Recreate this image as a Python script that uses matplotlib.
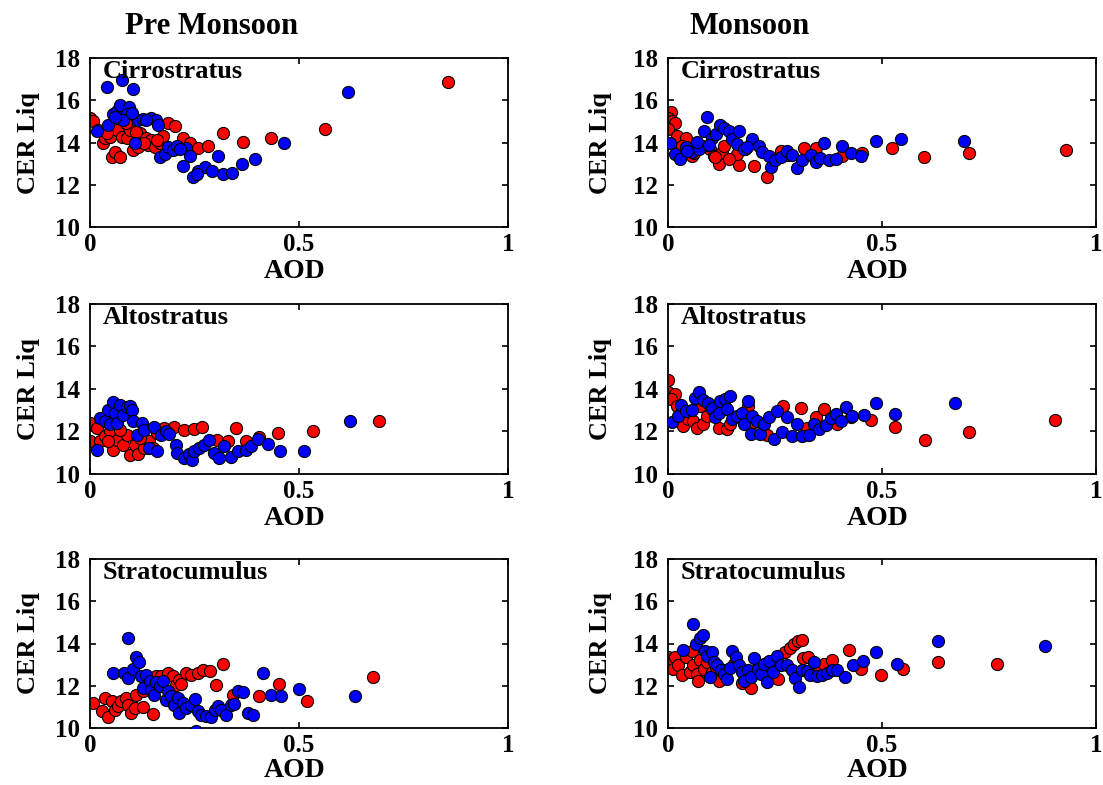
#!/usr/bin/env python3
"""CER Liq vs AOD for three cloud types, pre-monsoon and monsoon."""

import matplotlib
matplotlib.use("Agg")
import matplotlib.pyplot as plt

plt.rcParams["font.family"] = ["Liberation Serif", "DejaVu Serif"]
plt.rcParams["font.weight"] = "bold"

SEASONS = ["Pre Monsoon", "Monsoon"]
CLOUDS = ["Cirrostratus", "Altostratus", "Stratocumulus"]

# ---- Pre Monsoon, Cirrostratus ----
pre_cs_red_x = [0.0, 0.008, 0.02, 0.032, 0.036, 0.048, 0.052, 0.06, 0.072, 0.064, 0.076, 0.088,
                0.096, 0.104, 0.116, 0.119, 0.135, 0.139, 0.147, 0.155, 0.167, 0.175, 0.187,
                0.203, 0.223, 0.239, 0.259, 0.283, 0.319, 0.367, 0.434, 0.562, 0.857,
                0.04, 0.085, 0.11, 0.13, 0.16]
pre_cs_red_y = [15.17, 15.01, 14.61, 13.96, 14.2, 14.28, 13.31, 13.56, 13.31, 14.61, 14.28, 14.2,
                14.61, 13.64, 13.8, 14.45, 14.2, 13.88, 14.12, 13.8, 13.96, 14.32, 14.93,
                14.77, 14.2, 13.96, 13.72, 13.83, 14.45, 14.04, 14.2, 14.64, 16.87,
                14.45, 14.9, 14.5, 14.0, 14.1]
pre_cs_blue_x = [0.04, 0.076, 0.104, 0.617, 0.016, 0.044, 0.056, 0.064, 0.072, 0.094, 0.088,
                 0.08, 0.116, 0.127, 0.147, 0.159, 0.163, 0.108, 0.167, 0.179, 0.187, 0.199,
                 0.207, 0.229, 0.239, 0.223, 0.247, 0.259, 0.275, 0.291, 0.307, 0.319, 0.339,
                 0.363, 0.394, 0.464, 0.06, 0.1, 0.135, 0.215, 0.255]
pre_cs_blue_y = [16.63, 16.95, 16.51, 16.38, 14.53, 14.85, 15.33, 15.5, 15.77, 15.66, 15.33,
                 15.06, 15.06, 15.1, 15.17, 15.06, 14.85, 13.99, 13.31, 13.47, 13.8, 13.64,
                 13.83, 13.72, 13.35, 12.91, 12.35, 12.67, 12.83, 12.64, 13.35, 12.51, 12.54,
                 12.99, 13.23, 13.96, 15.2, 15.4, 15.08, 13.7, 12.5]

# ---- Monsoon, Cirrostratus ----
mon_cs_red_x = [0.008, 0.0, 0.009, 0.017, 0.0, 0.021, 0.041, 0.033, 0.056, 0.099, 0.107, 0.119,
                0.126, 0.13, 0.165, 0.2, 0.161, 0.232, 0.263, 0.318, 0.345, 0.407, 0.454,
                0.524, 0.598, 0.704, 0.93, 0.181, 0.08, 0.142, 0.06, 0.11, 0.28]
mon_cs_red_y = [15.46, 15.15, 15.0, 14.92, 14.62, 14.31, 14.23, 13.85, 13.38, 13.69, 13.38, 13.0,
                13.54, 13.85, 12.95, 12.89, 13.46, 12.38, 13.62, 13.72, 13.72, 13.38, 13.51,
                13.72, 13.31, 13.51, 13.66, 13.69, 13.85, 13.23, 13.5, 13.3, 13.4]
mon_cs_blue_x = [0.005, 0.017, 0.029, 0.041, 0.056, 0.072, 0.068, 0.083, 0.091, 0.103, 0.111,
                 0.122, 0.13, 0.142, 0.15, 0.167, 0.161, 0.177, 0.197, 0.212, 0.22, 0.236,
                 0.24, 0.251, 0.263, 0.278, 0.29, 0.302, 0.314, 0.333, 0.345, 0.356, 0.364,
                 0.376, 0.392, 0.407, 0.427, 0.452, 0.485, 0.544, 0.692, 0.045, 0.095, 0.185]
mon_cs_blue_y = [13.97, 13.46, 13.23, 13.77, 13.54, 13.69, 14.03, 14.54, 15.23, 14.23, 14.38,
                 14.85, 14.69, 14.54, 14.15, 14.54, 13.92, 13.69, 14.15, 13.85, 13.54, 13.38,
                 12.85, 13.15, 13.31, 13.62, 13.42, 12.77, 13.15, 13.42, 13.08, 13.26, 13.97,
                 13.15, 13.2, 13.82, 13.51, 13.38, 14.08, 14.15, 14.08, 13.6, 13.9, 13.8]

# ---- Pre Monsoon, Altostratus ----
pre_as_red_x = [0.0, 0.0, 0.016, 0.024, 0.036, 0.048, 0.056, 0.064, 0.08, 0.088, 0.096, 0.108,
                0.116, 0.128, 0.141, 0.161, 0.177, 0.201, 0.225, 0.249, 0.269, 0.305, 0.329,
                0.349, 0.373, 0.405, 0.45, 0.534, 0.691, 0.072, 0.044, 0.12, 0.15]
pre_as_red_y = [12.39, 11.53, 12.16, 11.53, 11.77, 12.0, 11.14, 11.61, 11.38, 11.84, 10.91, 11.38,
                10.94, 11.22, 11.53, 11.92, 12.16, 12.19, 12.08, 12.13, 12.23, 11.61, 11.53,
                12.16, 11.53, 11.72, 11.92, 12.03, 12.5, 12.08, 11.53, 11.7, 11.2]
pre_as_blue_x = [0.016, 0.024, 0.036, 0.044, 0.048, 0.056, 0.06, 0.064, 0.072, 0.08, 0.088,
                 0.096, 0.1, 0.104, 0.112, 0.124, 0.129, 0.141, 0.153, 0.161, 0.169, 0.181,
                 0.189, 0.205, 0.209, 0.225, 0.237, 0.245, 0.249, 0.261, 0.273, 0.285, 0.297,
                 0.309, 0.321, 0.337, 0.353, 0.373, 0.385, 0.402, 0.426, 0.454, 0.512, 0.622]
pre_as_blue_y = [11.14, 12.63, 12.5, 13.02, 12.34, 13.41, 12.86, 12.39, 13.25, 12.78, 13.17,
                 13.22, 13.02, 12.5, 11.84, 12.39, 12.08, 11.22, 12.23, 11.06, 11.84, 12.0,
                 11.88, 11.38, 10.98, 10.75, 10.94, 10.67, 11.06, 11.22, 11.38, 11.61, 10.98,
                 10.75, 11.3, 10.78, 11.06, 11.14, 11.3, 11.66, 11.41, 11.06, 11.09, 12.5]

# ---- Monsoon, Altostratus ----
mon_as_red_x = [0.0, 0.0, 0.016, 0.008, 0.02, 0.031, 0.035, 0.047, 0.059, 0.067, 0.082, 0.09,
                0.102, 0.118, 0.137, 0.145, 0.153, 0.188, 0.2, 0.231, 0.269, 0.311, 0.325,
                0.345, 0.365, 0.396, 0.427, 0.475, 0.531, 0.6, 0.704, 0.904, 0.075]
mon_as_red_y = [14.4, 13.85, 13.78, 13.51, 13.2, 12.89, 12.28, 12.58, 12.51, 12.15, 12.35, 12.74,
                13.05, 12.15, 12.12, 12.35, 12.66, 13.2, 12.43, 11.82, 13.2, 13.12, 12.15,
                12.66, 13.05, 12.35, 12.66, 12.55, 12.23, 11.62, 11.97, 12.54, 13.2]
mon_as_blue_x = [0.01, 0.024, 0.031, 0.043, 0.055, 0.063, 0.073, 0.082, 0.094, 0.102, 0.11,
                 0.118, 0.122, 0.133, 0.145, 0.137, 0.149, 0.161, 0.173, 0.178, 0.186, 0.196,
                 0.194, 0.208, 0.216, 0.224, 0.235, 0.247, 0.255, 0.267, 0.278, 0.29, 0.302,
                 0.314, 0.329, 0.341, 0.353, 0.369, 0.38, 0.392, 0.404, 0.416, 0.431, 0.457,
                 0.486, 0.531, 0.671]
mon_as_blue_y = [12.43, 12.71, 13.23, 12.97, 13.02, 13.58, 13.85, 13.48, 13.35, 13.12, 12.66,
                 12.89, 13.43, 13.54, 13.69, 13.05, 12.58, 12.71, 12.89, 12.35, 13.43, 12.71,
                 11.89, 12.51, 11.89, 12.35, 12.66, 11.66, 12.97, 11.97, 12.66, 11.78, 12.35,
                 11.78, 11.85, 12.35, 12.12, 12.31, 12.62, 12.82, 12.51, 13.17, 12.71, 12.78,
                 13.32, 12.8, 13.32]

# ---- Pre Monsoon, Stratocumulus ----
pre_sc_red_x = [0.008, 0.028, 0.036, 0.044, 0.052, 0.06, 0.067, 0.075, 0.087, 0.091, 0.099,
                0.107, 0.111, 0.127, 0.127, 0.139, 0.151, 0.159, 0.171, 0.187, 0.198, 0.206,
                0.214, 0.218, 0.23, 0.242, 0.258, 0.27, 0.286, 0.302, 0.317, 0.341, 0.405,
                0.452, 0.518, 0.677]
pre_sc_red_y = [11.18, 10.82, 11.42, 10.5, 11.26, 10.87, 11.02, 11.26, 11.42, 11.1, 10.71,
                10.94, 11.57, 10.98, 11.73, 11.89, 10.66, 12.44, 12.44, 12.6, 12.44, 12.05,
                12.28, 12.08, 12.6, 12.49, 12.6, 12.76, 12.68, 12.02, 13.02, 11.57, 11.5,
                12.08, 11.26, 12.41]
pre_sc_blue_x = [0.056, 0.082, 0.09, 0.091, 0.103, 0.111, 0.117, 0.123, 0.127, 0.135, 0.143,
                 0.147, 0.153, 0.159, 0.167, 0.175, 0.183, 0.187, 0.194, 0.202, 0.21, 0.214,
                 0.222, 0.23, 0.242, 0.25, 0.254, 0.258, 0.266, 0.278, 0.29, 0.298, 0.306,
                 0.313, 0.325, 0.337, 0.345, 0.353, 0.365, 0.377, 0.389, 0.413, 0.433, 0.456,
                 0.5, 0.635]
pre_sc_blue_y = [12.6, 12.6, 14.28, 12.39, 12.8, 13.34, 13.12, 12.44, 11.89, 12.49, 12.24,
                 11.81, 11.54, 12.2, 11.97, 12.24, 11.34, 11.73, 11.5, 11.1, 11.42, 10.71,
                 11.18, 10.94, 11.1, 11.39, 9.87, 10.79, 10.6, 10.55, 10.5, 10.87, 11.02,
                 10.87, 10.63, 11.1, 11.13, 11.73, 11.7, 10.71, 10.63, 12.6, 11.54, 11.5,
                 11.86, 11.5]

# ---- Monsoon, Stratocumulus ----
mon_sc_red_x = [0.0, 0.008, 0.016, 0.012, 0.024, 0.032, 0.043, 0.051, 0.055, 0.059, 0.067,
                0.071, 0.075, 0.083, 0.091, 0.103, 0.111, 0.119, 0.13, 0.154, 0.174, 0.194,
                0.209, 0.225, 0.249, 0.258, 0.273, 0.285, 0.295, 0.304, 0.312, 0.316, 0.328,
                0.352, 0.364, 0.383, 0.423, 0.451, 0.498, 0.549, 0.632, 0.769]
mon_sc_red_y = [13.35, 13.15, 13.35, 12.81, 12.99, 12.53, 13.35, 12.65, 13.66, 12.96, 12.57,
                12.22, 13.24, 12.81, 13.12, 12.65, 12.88, 12.22, 12.73, 13.04, 12.11, 11.91,
                12.73, 12.84, 13.09, 12.34, 13.58, 13.81, 13.97, 14.12, 14.17, 13.3, 13.35,
                12.65, 13.04, 13.24, 13.71, 12.78, 12.53, 12.78, 13.12, 13.04]
mon_sc_blue_x = [0.034, 0.058, 0.066, 0.075, 0.081, 0.087, 0.091, 0.103, 0.099, 0.107, 0.115,
                 0.123, 0.13, 0.138, 0.146, 0.15, 0.158, 0.166, 0.172, 0.178, 0.186, 0.194,
                 0.202, 0.21, 0.217, 0.225, 0.232, 0.237, 0.245, 0.255, 0.265, 0.279, 0.289,
                 0.296, 0.306, 0.312, 0.324, 0.332, 0.34, 0.348, 0.36, 0.372, 0.383, 0.395,
                 0.413, 0.432, 0.455, 0.486, 0.534, 0.632, 0.881]
mon_sc_blue_y = [13.71, 14.9, 13.97, 14.28, 14.39, 13.66, 13.43, 13.58, 12.42, 13.12, 12.96,
                 12.73, 12.57, 12.34, 12.84, 13.66, 13.35, 12.96, 12.65, 12.22, 12.73, 12.42,
                 13.3, 12.81, 12.57, 13.04, 12.16, 13.19, 12.65, 13.43, 12.99, 12.99, 12.73,
                 12.37, 11.95, 12.73, 12.68, 12.5, 13.12, 12.47, 12.53, 12.62, 12.73, 12.76,
                 12.42, 12.96, 13.19, 13.58, 13.04, 14.12, 13.89]

PANELS = {
    (0, 0): (pre_cs_red_x, pre_cs_red_y, pre_cs_blue_x, pre_cs_blue_y),
    (0, 1): (mon_cs_red_x, mon_cs_red_y, mon_cs_blue_x, mon_cs_blue_y),
    (1, 0): (pre_as_red_x, pre_as_red_y, pre_as_blue_x, pre_as_blue_y),
    (1, 1): (mon_as_red_x, mon_as_red_y, mon_as_blue_x, mon_as_blue_y),
    (2, 0): (pre_sc_red_x, pre_sc_red_y, pre_sc_blue_x, pre_sc_blue_y),
    (2, 1): (mon_sc_red_x, mon_sc_red_y, mon_sc_blue_x, mon_sc_blue_y),
}

X_TICKS = [0, 0.5, 1]
X_TICK_LABELS = ["0", "0.5", "1"]
Y_TICKS = [10, 12, 14, 16, 18]

W, H = 1103, 785
COL_X = [(90, 508), (668, 1096)]
ROW_Y = [(58, 227), (304, 474), (559, 728)]


def main() -> None:
    fig = plt.figure(figsize=(W / 100, H / 100), dpi=100)

    for (row, col), (rx, ry, bx, by) in PANELS.items():
        x0, x1 = COL_X[col]
        y0, y1 = ROW_Y[row]
        ax = fig.add_axes([x0 / W, 1 - y1 / H, (x1 - x0) / W, (y1 - y0) / H])

        ax.scatter(rx, ry, s=76, color="#ff0000", edgecolor="black", linewidth=0.8, zorder=2)
        ax.scatter(bx, by, s=76, color="#0000ff", edgecolor="black", linewidth=0.8, zorder=3)

        ax.set_xlim(0, 1)
        ax.set_ylim(10, 18)
        ax.set_xticks(X_TICKS)
        ax.set_xticklabels(X_TICK_LABELS)
        ax.set_yticks(Y_TICKS)
        ax.tick_params(direction="in", top=True, right=True, length=4, width=1.2,
                       labelsize=18)
        ax.tick_params(axis="y", pad=7)
        ax.tick_params(axis="x", pad=4)
        for lab in ax.get_xticklabels() + ax.get_yticklabels():
            lab.set_fontweight("bold")
        for spine in ax.spines.values():
            spine.set_linewidth(1.3)

        ax.text(0.03, 0.92, CLOUDS[row], transform=ax.transAxes, fontsize=19,
                fontweight="bold", va="center", ha="left")

        ax.set_xlabel("AOD", fontsize=20, fontweight="bold")
        ax.set_ylabel("CER Liq", fontsize=19, fontweight="bold")
        ax.xaxis.set_label_coords(0.49, -0.19 if row < 2 else -0.175)
        ax.yaxis.set_label_coords(-0.12 if col == 0 else -0.13, 0.5)

    fig.text(212 / W, 1 - 26 / H, SEASONS[0], fontsize=22, fontweight="bold",
             ha="center", va="center")
    fig.text(750 / W, 1 - 26 / H, SEASONS[1], fontsize=22, fontweight="bold",
             ha="center", va="center")

    fig.savefig("out.png", dpi=100)
    plt.close(fig)


if __name__ == "__main__":
    main()
